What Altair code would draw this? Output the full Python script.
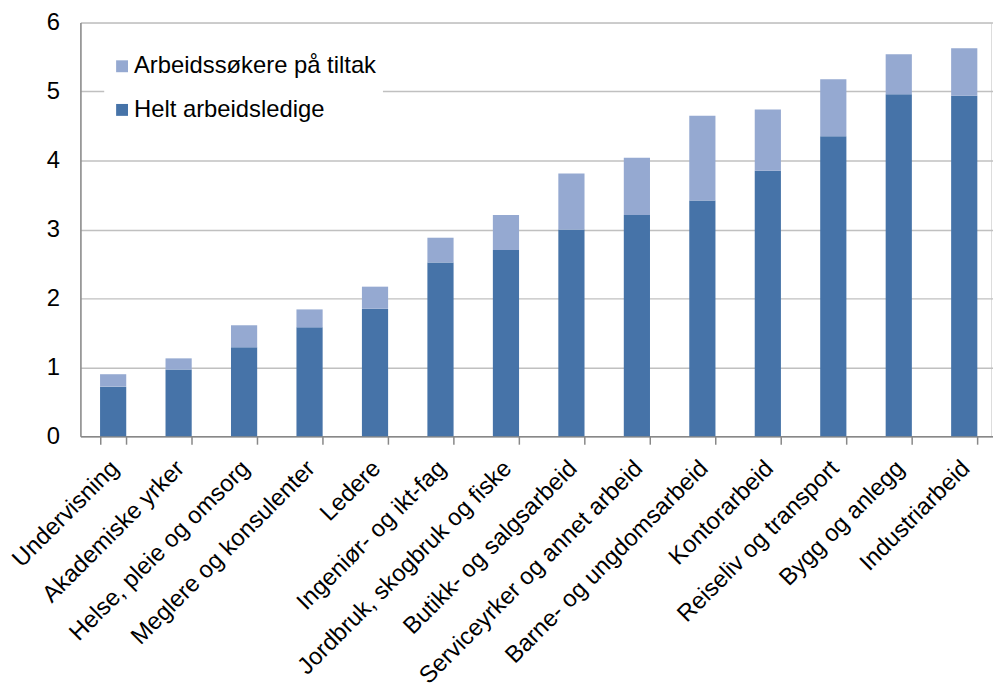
import altair as alt
import pandas as pd

categories = [
    "Undervisning", "Akademiske yrker", "Helse, pleie og omsorg",
    "Meglere og konsulenter", "Ledere", "Ingeniør- og ikt-fag",
    "Jordbruk, skogbruk og fiske", "Butikk- og salgsarbeid",
    "Serviceyrker og annet arbeid", "Barne- og ungdomsarbeid",
    "Kontorarbeid", "Reiseliv og transport", "Bygg og anlegg", "Industriarbeid",
]
helt = [0.72, 0.97, 1.29, 1.58, 1.85, 2.52, 2.70, 3.00, 3.21, 3.42, 3.85, 4.35, 4.96, 4.94]
tiltak = [0.18, 0.16, 0.32, 0.26, 0.32, 0.36, 0.51, 0.81, 0.83, 1.23, 0.89, 0.83, 0.58, 0.69]
series = ["Arbeidssøkere på tiltak", "Helt arbeidsledige"]
colors = ["#95a9d1", "#4673a8"]
y_ticks = [0, 1, 2, 3, 4, 5, 6]

rows = []
for c, h, t in zip(categories, helt, tiltak):
    rows.append({"kategori": c, "serie": series[1], "verdi": h, "rekkefolge": 0})
    rows.append({"kategori": c, "serie": series[0], "verdi": t, "rekkefolge": 1})
df = pd.DataFrame(rows)

FONT = "Liberation Sans"

chart = alt.Chart(df).mark_bar().encode(
    x=alt.X(
        "kategori:N", sort=categories, title=None,
        scale=alt.Scale(range=[0, 924], paddingInner=0.6, paddingOuter=0.3),
        axis=alt.Axis(
            labelAngle=-45, labelAlign="right", labelBaseline="top",
            labelFontSize=24, labelFont=FONT, labelColor="#000000",
            tickBand="extent", tickSize=8, tickColor="#888888", tickWidth=1.5,
            domainColor="#888888", domainWidth=1.5, labelPadding=12,
            labelOffset=-7,
            grid=False, labelOverlap=False, labelLimit=0,
        ),
    ),
    y=alt.Y(
        "verdi:Q", stack="zero", title=None,
        scale=alt.Scale(domain=[0, 6], nice=False),
        axis=alt.Axis(
            values=y_ticks, tickSize=0, labelPadding=21, labelFontSize=24,
            labelFont=FONT, labelColor="#000000",
            gridColor="#c0c0c0", gridWidth=1.5,
            domainColor="#888888", domainWidth=1.5,
        ),
    ),
    color=alt.Color(
        "serie:N",
        scale=alt.Scale(domain=series, range=colors),
        legend=alt.Legend(
            title=None, orient="none", legendX=24, legendY=26,
            fillColor="white", padding=6, symbolType="square",
            symbolSize=144, symbolStrokeWidth=0, labelFontSize=24,
            labelFont=FONT, labelColor="#000000", rowPadding=20,
            labelOffset=0, labelLimit=0,
        ),
    ),
    order=alt.Order("rekkefolge:Q", sort="ascending"),
).properties(
    width=918,
    height=417,
    autosize=alt.AutoSizeParams(type="none"),
    padding={"left": 73, "top": 12, "right": 2, "bottom": 246},
).configure_view(strokeWidth=0).configure(font=FONT)

chart.save("out.html", embed_options={"renderer": "svg", "actions": False})
